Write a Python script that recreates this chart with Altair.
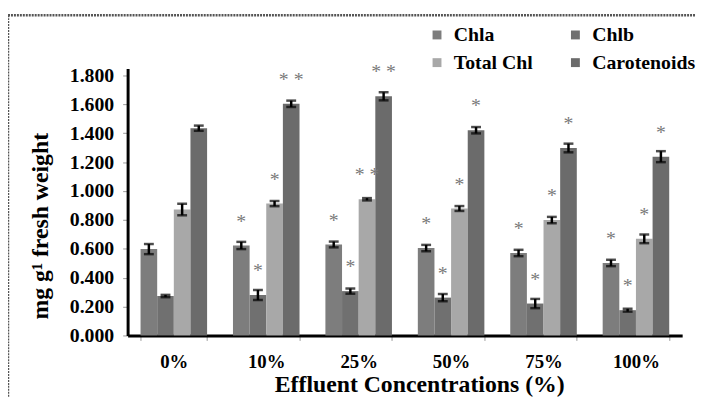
import altair as alt
import pandas as pd

cats = ["0%", "10%", "25%", "50%", "75%", "100%"]
series = ["Chla", "Chlb", "Total Chl", "Carotenoids"]
colors = ["#7d7d7d", "#707070", "#a8a8a8", "#6b6b6b"]

chla = [0.598, 0.623, 0.630, 0.605, 0.571, 0.502]
chla_err = [0.035, 0.025, 0.020, 0.022, 0.022, 0.022]
chlb = [0.273, 0.280, 0.307, 0.262, 0.221, 0.175]
chlb_err = [0.008, 0.035, 0.018, 0.025, 0.032, 0.010]
total = [0.872, 0.913, 0.943, 0.879, 0.799, 0.669]
total_err = [0.040, 0.018, 0.008, 0.017, 0.022, 0.030]
carot = [1.435, 1.604, 1.656, 1.421, 1.298, 1.238]
carot_err = [0.018, 0.022, 0.028, 0.022, 0.030, 0.038]

chla_sig = ["", "*", "*", "*", "*", "*"]
chlb_sig = ["", "*", "*", "*", "*", "*"]
total_sig = ["", "*", "* *", "*", "*", "*"]
carot_sig = ["", "* *", "* *", "*", "*", "*"]

y_ticks = [0, 0.2, 0.4, 0.6, 0.8, 1.0, 1.2, 1.4, 1.6, 1.8]

rows = []
for s, vals, errs, sigs in [
    ("Chla", chla, chla_err, chla_sig),
    ("Chlb", chlb, chlb_err, chlb_sig),
    ("Total Chl", total, total_err, total_sig),
    ("Carotenoids", carot, carot_err, carot_sig),
]:
    for c, v, e, g in zip(cats, vals, errs, sigs):
        rows.append({"cat": c, "series": s, "value": v, "lo": v - e, "hi": v + e, "star": g})
df = pd.DataFrame(rows)

FONT = "Liberation Serif, Times New Roman, serif"
XT = "Effluent Concentrations (%)"
YT = "mg g¹ fresh weight"

x_axis = alt.Axis(
    labelAngle=0,
    labelFont=FONT, labelFontSize=19, labelFontWeight="bold", labelColor="black",
    labelPadding=12, tickSize=5, tickColor="#999999", tickWidth=1,
    tickBand="extent", domainColor="black", domainWidth=3,
    titleFont=FONT, titleFontSize=24, titleFontWeight="bold", titleColor="black",
    titleX=295, titleY=57, titleBaseline="alphabetic", titleAnchor="middle", titleAlign="center",
)
y_axis = alt.Axis(
    values=y_ticks, format=".3f", grid=False, labelOverlap=False, labelFlush=False,
    labelFont=FONT, labelFontSize=20, labelFontWeight="bold", labelColor="black",
    labelPadding=9, tickSize=5, tickColor="#999999", tickWidth=1,
    domainColor="black", domainWidth=3,
    titleFont=FONT, titleFontSize=24, titleFontWeight="bold", titleColor="black",
    titleX=-88, titleY=159, titleAngle=-90, titleBaseline="middle", titleAlign="center",
)

x_enc = alt.X("cat:N", sort=cats, title=XT,
              scale=alt.Scale(paddingInner=0.28, paddingOuter=0.14), axis=x_axis)
xo = alt.XOffset("series:N", sort=series, scale=alt.Scale(paddingInner=0, paddingOuter=0))
y_scale = alt.Scale(domain=[0, 1.848], nice=False)


def yq(field):
    return alt.Y(field, scale=y_scale, title=YT, axis=y_axis)


bars = alt.Chart(df).mark_bar().encode(
    x=x_enc,
    xOffset=xo,
    y=yq("value:Q"),
    color=alt.Color(
        "series:N", sort=series,
        scale=alt.Scale(domain=series, range=colors),
        legend=alt.Legend(
            title=None, orient="none", legendX=303, legendY=-44, columns=2, direction="horizontal",
            symbolType="square", symbolSize=81, symbolStrokeWidth=0,
            labelFont=FONT, labelFontSize=20, labelFontWeight="bold", labelColor="black",
            labelOffset=7, columnPadding=33, rowPadding=8, labelLimit=300,
        ),
    ),
)

err_rule = alt.Chart(df).mark_rule(color="black", strokeWidth=2.5).encode(
    x=x_enc, xOffset=xo, y=yq("lo:Q"), y2="hi:Q",
)
cap_hi = alt.Chart(df).mark_tick(color="black", thickness=2.5, size=10).encode(
    x=x_enc, xOffset=xo, y=yq("hi:Q"),
)
cap_lo = alt.Chart(df).mark_tick(color="black", thickness=2.5, size=10).encode(
    x=x_enc, xOffset=xo, y=yq("lo:Q"),
)
stars = alt.Chart(df).transform_filter("datum.star != ''").mark_text(
    font=FONT, fontSize=20, color="#7a7a7a", dy=-24, baseline="middle",
).encode(
    x=x_enc, xOffset=xo, y=yq("value:Q"), text="star:N",
)

frame_df = pd.DataFrame({"k": [0]})
frame_top = alt.Chart(frame_df).mark_rule(color="#555555", strokeWidth=2.5, strokeDash=[2, 1]).encode(
    x=alt.value(-121), x2=alt.value(600), y=alt.value(-54),
)
frame_left = alt.Chart(frame_df).mark_rule(color="#555555", strokeWidth=2.5, strokeDash=[2, 1]).encode(
    x=alt.value(-121), y=alt.value(-54), y2=alt.value(340),
)

chart = alt.layer(bars, err_rule, cap_hi, cap_lo, stars, frame_top, frame_left).properties(
    width=561, height=270,
    autosize=alt.AutoSizeParams(type="none"),
    padding={"left": 121, "top": 59, "right": 14, "bottom": 60},
).configure_view(stroke=None)

chart.save("out.html", embed_options={"renderer": "svg", "actions": False})
